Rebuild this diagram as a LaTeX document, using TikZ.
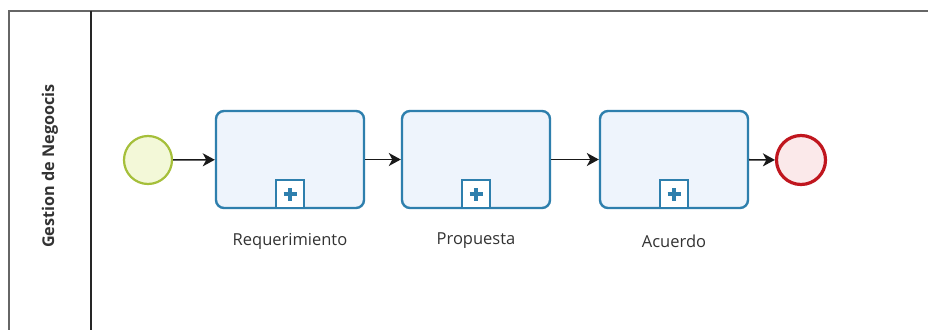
\documentclass[tikz,border=0pt]{standalone}
\usepackage{fontspec}
\setmainfont{Open Sans}
\usetikzlibrary{arrows.meta}
\definecolor{taskblue}{HTML}{2E7FAD}
\definecolor{taskfill}{HTML}{EEF4FC}
\definecolor{startline}{HTML}{A5BF3A}
\definecolor{startfill}{HTML}{F3F8D8}
\definecolor{endline}{HTML}{C0161E}
\definecolor{endfill}{HTML}{FBE9EA}
\definecolor{labelgray}{HTML}{333333}
\tikzset{
  x=1pt, y=-1pt,
  subproc/.style={draw=taskblue, line width=2.4pt, fill=taskfill, rounded corners=8pt,
    minimum width=148pt, minimum height=97pt, inner sep=0pt},
  startev/.style={circle, draw=startline, line width=2.2pt, fill=startfill, minimum size=48pt, inner sep=0pt},
  endev/.style={circle, draw=endline, line width=3.2pt, fill=endfill, minimum size=49pt, inner sep=0pt},
  flow/.style={draw=black!90, line width=1.6pt, -{Stealth[length=12pt,width=13pt,inset=3.5pt]}},
  tasklabel/.style={text=labelgray, font=\fontsize{16.5}{19}\selectfont},
  marker/.style={draw=taskblue, line width=2.2pt, fill=white, minimum size=28pt, inner sep=0pt},
}
\begin{document}
\begin{tikzpicture}
\useasboundingbox (0,0) rectangle (928,329);
\fill[white] (0,0) rectangle (928,329);
% pool frame and lane header
\draw[draw=black!60, line width=2.2pt] (9,335) -- (9,11) -- (935,11);
\draw[draw=black!85, line width=1.6pt] (91,11) -- (91,335);
\node[rotate=90, text=labelgray, font=\bfseries\fontsize{16.2}{18}\selectfont] (lane) at (50,166) {Gestion de Negoocis};
% events and sub-processes
\node[startev] (start) at (148,160) {};
\node[subproc] (t1) at (290,159.5) {};
\node[subproc] (t2) at (476,159.5) {};
\node[subproc] (t3) at (674,159.5) {};
\node[endev] (end) at (801,160) {};
\foreach \t in {t1,t2,t3}{
  \node[marker, anchor=south] (\t m) at (\t.south) {};
  \draw[taskblue, line width=3.8pt] ([yshift=-6.5pt]\t m.center) -- ([yshift=6.5pt]\t m.center)
    ([xshift=-6.5pt]\t m.center) -- ([xshift=6.5pt]\t m.center);
}
\node[tasklabel] (l1) at (290,241) {Requerimiento};
\node[tasklabel] (l2) at (476,241) {Propuesta};
\node[tasklabel] (l3) at (674,241) {Acuerdo};
% sequence flows
\draw[flow] (start) -- (t1);
\draw[flow] (t1) -- (t2);
\draw[flow] (t2) -- (t3);
\draw[flow] (t3) -- (end);
\end{tikzpicture}
\end{document}
